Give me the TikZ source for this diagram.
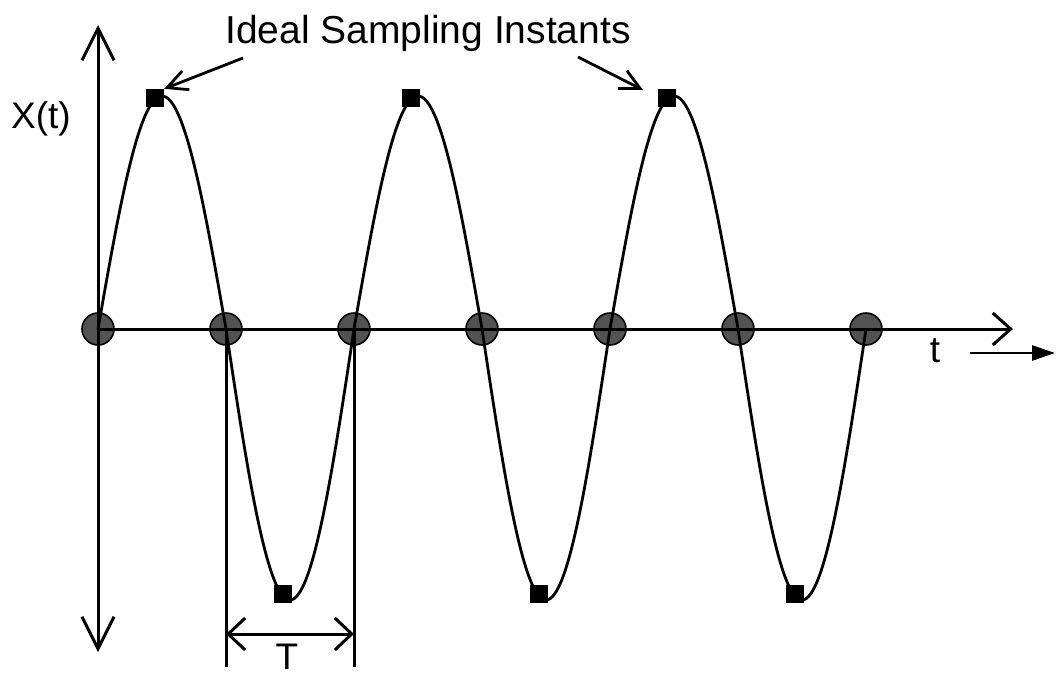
\documentclass[tikz,border=0pt]{standalone}
\usepackage{fontspec}
\setmainfont{Liberation Sans}
\usetikzlibrary{arrows.meta}
\tikzset{
  axtip/.tip={Straight Barb[length=32pt,width=32pt]},
  xtip/.tip={Straight Barb[length=18pt,width=32pt]},
  dimtip/.tip={Straight Barb[length=17pt,width=32pt]},
  ptrtip/.tip={Straight Barb[length=20pt,width=20pt]}
}
\begin{document}
\begin{tikzpicture}[x=1pt,y=-1pt,
  axis/.style={line width=3pt},
  wave/.style={line width=2.8pt},
  sample/.style={circle, draw=black, line width=1.6pt, fill=black!68, minimum size=32pt, inner sep=0pt},
  ideal/.style={rectangle, fill=black, minimum size=18pt, inner sep=0pt},
  lbl/.style={inner sep=0pt, font=\fontsize{37}{44}\selectfont},
  pointer/.style={line width=2.8pt, -ptrtip}
]
\useasboundingbox (0,0) rectangle (1056,675);

% sampling points on the axis
\foreach \k in {0,...,6}
  \node[sample] (c\k) at ({98+128*\k},329) {};

% axes
\coordinate (ytop) at (98,25);
\coordinate (ybot) at (98,652);
\coordinate (xend) at (1013,329);
\draw[axis, axtip-axtip] (ybot) -- (ytop);
\draw[axis, -xtip] (c0.center) -- (xend);

% waveform
\draw[wave, line join=round] plot[domain=0:1080, samples=361, smooth]
  ({98+\x/1.40625},{329-(sin(\x)>0?233:271)*sin(\x)});

% ideal sampling squares
\node[ideal] (s1) at (155,98) {};
\node[ideal] (s2) at (411,98) {};
\node[ideal] (s3) at (667,98) {};
\node[ideal] (s4) at (283,594) {};
\node[ideal] (s5) at (539,594) {};
\node[ideal] (s6) at (795,594) {};

% labels
\node[lbl, font=\fontsize{39}{47}\selectfont, anchor=base] (title) at (428,43) {Ideal Sampling Instants};
\node[lbl, anchor=base west] (xlab) at (11,128) {X(t)};
\node[lbl, anchor=base] (tlab) at (935,362) {t};
\node[lbl, anchor=base] (Tlab) at (287,669) {T};

% pointers
\coordinate (p1) at (243,58);
\coordinate (p2) at (578,57);
\coordinate (q2) at (643,90);
\draw[pointer] (p1) -- (s1.north east);
\draw[pointer] (p2) -- (q2);

% time direction arrow
\coordinate (ta) at (970,353);
\coordinate (tb) at (1055,353);
\draw[line width=2.8pt, -{Triangle[length=23pt,width=15pt]}] (ta) -- (tb);

% period dimension
\coordinate (d1) at (226,667);
\coordinate (d2) at (354,667);
\coordinate (m1) at (226,634);
\coordinate (m2) at (354,634);
\draw[axis] (c1.center) -- (d1);
\draw[axis] (c2.center) -- (d2);
\draw[axis, dimtip-dimtip] (m1) -- (m2);
\end{tikzpicture}
\end{document}
